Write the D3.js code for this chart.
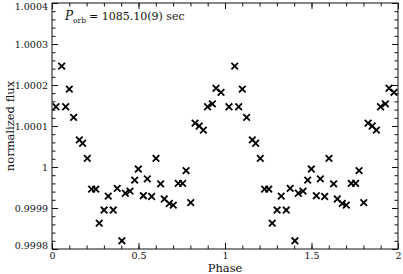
<!DOCTYPE html>
<html>
<head>
<meta charset="utf-8">
<script src="https://cdn.jsdelivr.net/npm/d3@7"></script>
<style>
  body { margin: 0; background: #fff; }
  svg { display: block; font-family: "DejaVu Serif", serif; }
</style>
</head>
<body>
<svg width="403" height="274"></svg>
<script>
// one orbital cycle; drawn twice (phase and phase + 1)
var phases = [0.023, 0.056, 0.079, 0.100, 0.125, 0.158, 0.177, 0.204, 0.229, 0.253,
              0.273, 0.301, 0.325, 0.354, 0.377, 0.404, 0.424, 0.451, 0.478, 0.499,
              0.528, 0.551, 0.576, 0.601, 0.628, 0.649, 0.678, 0.701, 0.730, 0.755,
              0.775, 0.802, 0.827, 0.851, 0.875, 0.899, 0.927, 0.948, 0.977];
var flux = [1.000147, 1.000246, 1.000147, 1.000190, 1.000121, 1.000066, 1.000058, 1.000021, 0.999946, 0.999946,
            0.999863, 0.999895, 0.999929, 0.999895, 0.999948, 0.999820, 0.999936, 0.999941, 0.999968, 0.999995,
            0.999930, 0.999971, 0.999928, 1.000021, 0.999959, 0.999922, 0.999911, 0.999907, 0.999960, 0.999960,
            0.999991, 0.999913, 1.000107, 1.000100, 1.000090, 1.000147, 1.000154, 1.000192, 1.000182];

var xTicks = [0, 0.5, 1, 1.5, 2];
var xTickLabels = ["0", "0.5", "1", "1.5", "2"];
var yTicks = [0.9998, 0.9999, 1, 1.0001, 1.0002, 1.0003, 1.0004];
var yTickLabels = ["0.9998", "0.9999", "1", "1.0001", "1.0002", "1.0003", "1.0004"];

var svg = d3.select("svg");
var plotLeft = 52, plotRight = 398, plotTop = 3, plotBottom = 249;

var x = d3.scaleLinear().domain([0, 2]).range([plotLeft, plotRight]);
var y = d3.scaleLinear().domain([0.9998, 1.0004]).range([plotBottom, plotTop]);

var xMinor = d3.range(0, 21).map(function(i) { return i / 10; });
var yMinor = d3.range(0, 31).map(function(i) { return 0.9998 + i * 0.00002; });

function styleAxis(g) {
    g.select(".domain").remove();
    g.selectAll("line").attr("stroke", "#111");
}

// minor ticks on all four sides (pointing inwards)
svg.append("g").attr("transform", "translate(0," + plotBottom + ")")
    .call(d3.axisBottom(x).tickValues(xMinor).tickSize(-3.5).tickFormat(""))
    .call(styleAxis);
svg.append("g").attr("transform", "translate(0," + plotTop + ")")
    .call(d3.axisTop(x).tickValues(xMinor).tickSize(-3.5).tickFormat(""))
    .call(styleAxis);
svg.append("g").attr("transform", "translate(" + plotLeft + ",0)")
    .call(d3.axisLeft(y).tickValues(yMinor).tickSize(-3.5).tickFormat(""))
    .call(styleAxis);
svg.append("g").attr("transform", "translate(" + plotRight + ",0)")
    .call(d3.axisRight(y).tickValues(yMinor).tickSize(-3.5).tickFormat(""))
    .call(styleAxis);

// major ticks + labels
var xAxis = svg.append("g").attr("transform", "translate(0," + plotBottom + ")")
    .call(d3.axisBottom(x).tickValues(xTicks).tickSize(-6).tickPadding(3)
        .tickFormat(function(d, i) { return xTickLabels[i]; }))
    .call(styleAxis);
xAxis.selectAll("text").attr("font-family", "DejaVu Serif").attr("font-size", "9.5px").attr("fill", "#111");

svg.append("g").attr("transform", "translate(0," + plotTop + ")")
    .call(d3.axisTop(x).tickValues(xTicks).tickSize(-6).tickFormat(""))
    .call(styleAxis);

var yAxis = svg.append("g").attr("transform", "translate(" + plotLeft + ",0)")
    .call(d3.axisLeft(y).tickValues(yTicks).tickSize(-6).tickPadding(4)
        .tickFormat(function(d, i) { return yTickLabels[i]; }))
    .call(styleAxis);
yAxis.selectAll("text").attr("font-family", "DejaVu Serif").attr("font-size", "9.5px").attr("fill", "#111")
    .attr("dy", function(d, i) {
        // end labels are pulled inside the frame
        if (i === 0) return "-0.1em";
        if (i === yTicks.length - 1) return "0.68em";
        return "0.32em";
    });

svg.append("g").attr("transform", "translate(" + plotRight + ",0)")
    .call(d3.axisRight(y).tickValues(yTicks).tickSize(-6).tickFormat(""))
    .call(styleAxis);

// frame
svg.append("rect")
    .attr("x", plotLeft).attr("y", plotTop)
    .attr("width", plotRight - plotLeft).attr("height", plotBottom - plotTop)
    .attr("fill", "none").attr("stroke", "#111").attr("stroke-width", 1);

// axis titles
svg.append("text")
    .attr("x", (plotLeft + plotRight) / 2).attr("y", 272)
    .attr("text-anchor", "middle")
    .attr("font-size", "11.5px")
    .attr("fill", "#111")
    .text("Phase");

svg.append("text")
    .attr("transform", "translate(14," + ((plotTop + plotBottom) / 2) + ") rotate(-90)")
    .attr("text-anchor", "middle")
    .attr("font-size", "11.5px")
    .attr("fill", "#111")
    .text("normalized flux");

// period annotation
var note = svg.append("text").attr("x", 65).attr("y", 20).attr("fill", "#111").attr("font-size", "11px");
note.append("tspan").attr("font-style", "italic").attr("font-size", "12px").text("P");
note.append("tspan").attr("font-size", "7.5px").attr("dy", 3).text("orb");
note.append("tspan").attr("dy", -3).attr("dx", 3).text("= 1085.10(9) sec");

// points, two cycles
var points = [];
[0, 1].forEach(function(k) {
    phases.forEach(function(p, i) { points.push({ phase: p + k, flux: flux[i] }); });
});

var marker = d3.symbol().type(d3.symbolTimes).size(30);
svg.selectAll(".pt")
    .data(points)
    .enter().append("path")
    .attr("class", "pt")
    .attr("transform", function(d) { return "translate(" + x(d.phase) + "," + y(d.flux) + ")"; })
    .attr("d", marker)
    .attr("fill", "none")
    .attr("stroke", "#000")
    .attr("stroke-width", 1.8);
</script>
</body>
</html>
